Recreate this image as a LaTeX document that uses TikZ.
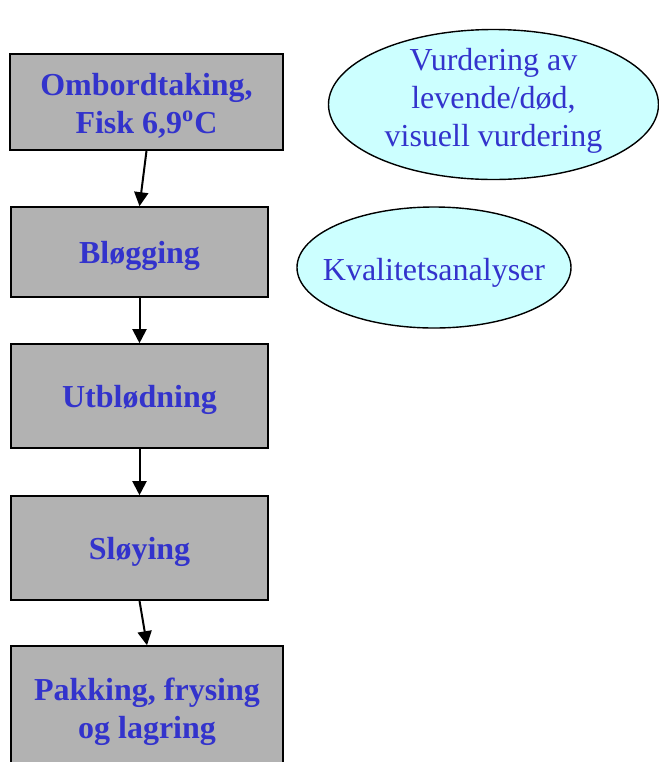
\documentclass[tikz,border=0pt]{standalone}
\usepackage{fontspec}
\setmainfont{Liberation Serif}
\definecolor{stepblue}{RGB}{51, 51, 204}
\definecolor{stepgray}{RGB}{178, 178, 178}
\definecolor{ovalcyan}{RGB}{204, 255, 255}
\usetikzlibrary{shapes.geometric, arrows.meta}

\tikzset{
  stepbox/.style={draw, line width=0.8pt, fill=stepgray, inner sep=0pt},
  steptext/.style={align=center, yshift=-2pt, text=stepblue, font=\fontsize{16}{19}\selectfont\bfseries},
  oval/.style={draw, ellipse, line width=0.7pt, fill=ovalcyan, inner sep=0pt},
  ovaltext/.style={align=center, text=stepblue, font=\fontsize{16}{19}\selectfont},
  flow/.style={-{Triangle[length=7pt, width=7pt]}, line width=1pt}
}

\begin{document}
\begin{tikzpicture}[x=0.5pt, y=-0.5pt]
  \useasboundingbox (0, 0) rectangle (659, 762);
  \clip (0, 0) rectangle (659, 762);

  % Steps
  \node[stepbox, minimum width=136.5pt, minimum height=48pt, label={[steptext]center:Ombordtaking,\\ Fisk 6,9\textsuperscript{o}C}] (ombord) at (146.5, 102) {};
  \node[stepbox, minimum width=128.5pt, minimum height=45pt, label={[steptext]center:Bløgging}] (blogging) at (139.5, 252) {};
  \node[stepbox, minimum width=128.5pt, minimum height=52pt, label={[steptext]center:Utblødning}] (utblodning) at (139.5, 396) {};
  \node[stepbox, minimum width=128.5pt, minimum height=52pt, label={[steptext]center:Sløying}] (sloying) at (139.5, 548) {};
  \node[stepbox, minimum width=136pt, minimum height=62pt, label={[steptext]center:Pakking, frysing\\ og lagring}] (pakking) at (147, 708) {};

  % Arrows
  \draw[flow] (ombord.south) -- (blogging.north);
  \draw[flow] (blogging.south) -- (utblodning.north);
  \draw[flow] (utblodning.south) -- (sloying.north);
  \draw[flow] (sloying.south) -- (pakking.north);

  % Assessments
  \node[oval, minimum width=165pt, minimum height=75pt, label={[ovaltext, yshift=2pt]center:Vurdering av\\ levende/død,\\ visuell vurdering}] (vurdering) at (493.5, 104.5) {};
  \node[oval, minimum width=137pt, minimum height=60.5pt, label={[ovaltext, yshift=-2.5pt]center:Kvalitetsanalyser}] (kvalitet) at (434, 267.5) {};
\end{tikzpicture}
\end{document}
